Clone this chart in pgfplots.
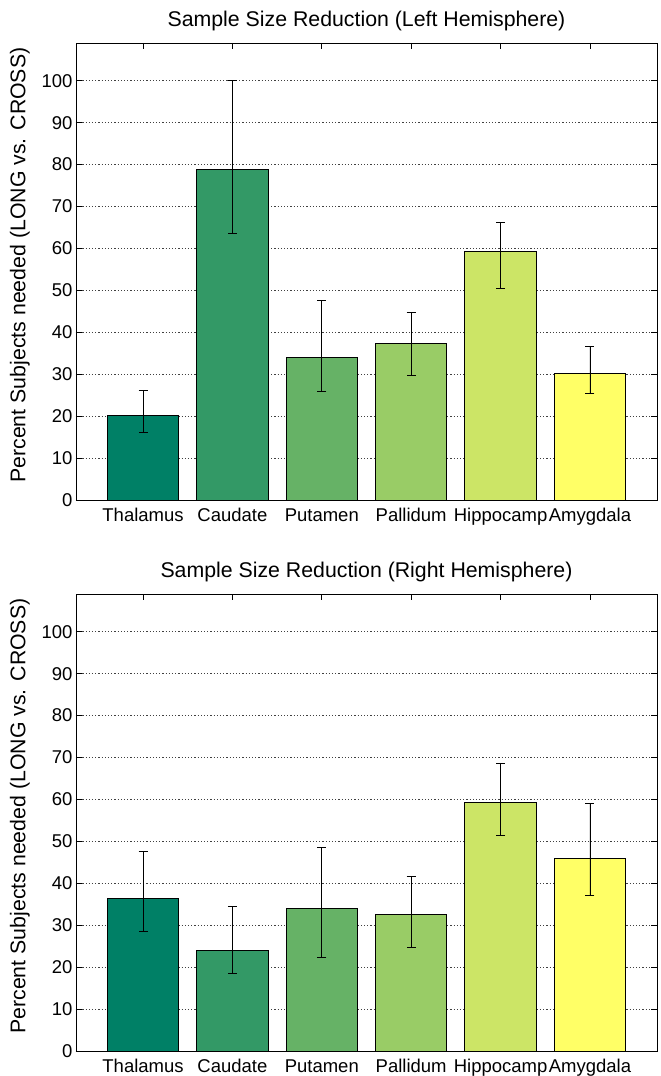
\documentclass[border=0pt]{standalone}
\usepackage{fontspec}
\setmainfont{Liberation Sans}
\usepackage{pgfplots}
\pgfplotsset{compat=1.18}
\definecolor{cTh}{rgb}{0,0.5,0.4}
\definecolor{cCa}{rgb}{0.2,0.6,0.4}
\definecolor{cPu}{rgb}{0.4,0.7,0.4}
\definecolor{cPa}{rgb}{0.6,0.8,0.4}
\definecolor{cHi}{rgb}{0.8,0.9,0.4}
\definecolor{cAm}{rgb}{1,1,0.4}
\pgfplotsset{
  myax/.style={
    scale only axis, width=581bp, height=457bp,
    xmin=0.25, xmax=6.75, ymin=0, ymax=109,
    xtick={1,2,3,4,5,6},
    xticklabels={Thalamus,Caudate,Putamen,Pallidum,Hippocamp,Amygdala},
    ytick={0,10,...,100},
    tick align=inside, tick pos=both, major tick length=6bp,
    ymajorgrids,
    major grid style={black!75, dash pattern=on 1.2bp off 2bp, line width=0.7bp},
    axis line style={line width=0.9bp},
    every tick/.style={black, line width=0.9bp},
    /pgf/number format/assume math mode=true,
    tick label style={font=\fontsize{18.5bp}{21bp}\selectfont},
    xticklabel style={anchor=base, yshift=-21.5bp, inner xsep=0pt, inner ysep=0pt},
    label style={font=\fontsize{21.3bp}{24bp}\selectfont},
    title style={font=\fontsize{21.3bp}{24bp}\selectfont, at={(axis description cs:0.5,1)}, anchor=base, yshift=11bp},
    ylabel={Percent Subjects needed (LONG vs. CROSS)},
    ylabel style={at={(axis description cs:-0.0964,0.514)}, anchor=center},
  },
  mybar/.style={ybar, bar shift=0pt, bar width=0.8, draw=black, line width=0.9bp, fill=#1,
    error bars/.cd, y dir=both, y explicit,
    error mark=|,
    error bar style={black, line width=0.9bp},
    error mark options={black, line width=0.9bp, mark size=4.5bp}},
}
\begin{document}
\begin{tikzpicture}
\begin{axis}[myax, at={(0,0)}, anchor=south west,
  title={Sample Size Reduction (Left Hemisphere)}]
\addplot[mybar=cTh] coordinates {(1,20.2) += (0,6.0) -= (0,4.2)};
\addplot[mybar=cCa] coordinates {(2,78.8) += (0,21.2) -= (0,15.2)};
\addplot[mybar=cPu] coordinates {(3,33.9) += (0,13.6) -= (0,7.9)};
\addplot[mybar=cPa] coordinates {(4,37.3) += (0,7.5) -= (0,7.5)};
\addplot[mybar=cHi] coordinates {(5,59.2) += (0,7.1) -= (0,8.7)};
\addplot[mybar=cAm] coordinates {(6,30.2) += (0,6.5) -= (0,4.7)};
\end{axis}
\begin{axis}[myax, at={(0,-551bp)}, anchor=south west,
  title={Sample Size Reduction (Right Hemisphere)}]
\addplot[mybar=cTh] coordinates {(1,36.4) += (0,11.1) -= (0,7.8)};
\addplot[mybar=cCa] coordinates {(2,24.1) += (0,10.4) -= (0,5.5)};
\addplot[mybar=cPu] coordinates {(3,34.1) += (0,14.5) -= (0,11.9)};
\addplot[mybar=cPa] coordinates {(4,32.6) += (0,9.0) -= (0,7.8)};
\addplot[mybar=cHi] coordinates {(5,59.4) += (0,9.3) -= (0,8.1)};
\addplot[mybar=cAm] coordinates {(6,46.0) += (0,13.0) -= (0,8.9)};
\end{axis}
\pgfresetboundingbox
\path (-76bp,-576bp) rectangle (585bp,500bp);
\end{tikzpicture}
\end{document}
